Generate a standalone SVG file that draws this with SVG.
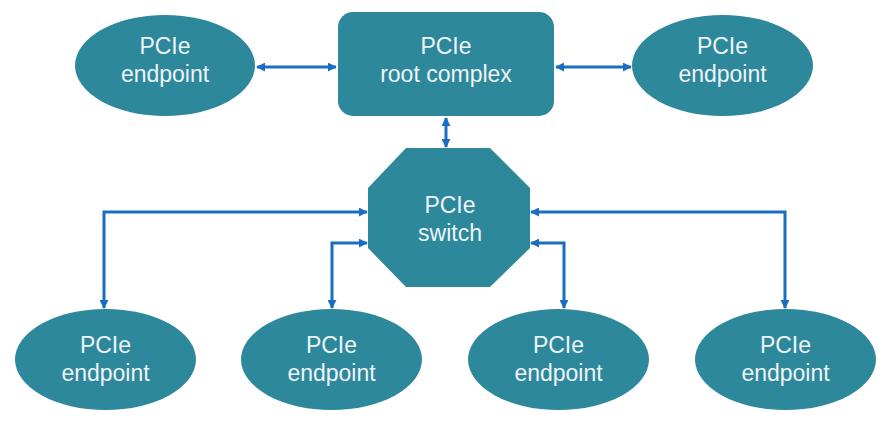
<svg xmlns="http://www.w3.org/2000/svg" width="884" height="433" viewBox="0 0 884 433">
<style>
.node{fill:#2d889c}
.lbl{font-family:"Liberation Sans",Arial,sans-serif;font-size:23px;fill:#eef4f6;text-anchor:middle}
.conn{fill:none;stroke:#1a6ec2;stroke-width:3}
</style>
<defs>
<marker id="ah" viewBox="0 0 10 10" refX="9" refY="5" markerWidth="9" markerHeight="9" markerUnits="userSpaceOnUse" orient="auto-start-reverse">
<path d="M0,0 L10,5 L0,10 z" fill="#1a6ec2"/>
</marker>
</defs>
<rect width="884" height="433" fill="#ffffff"/>
<g id="connectors">
<path class="conn" d="M257,67 H336" marker-start="url(#ah)" marker-end="url(#ah)"/>
<path class="conn" d="M556,67 H631" marker-start="url(#ah)" marker-end="url(#ah)"/>
<path class="conn" d="M446,118 V147" marker-start="url(#ah)" marker-end="url(#ah)"/>
<path class="conn" d="M367,212 H104 V308" marker-start="url(#ah)" marker-end="url(#ah)"/>
<path class="conn" d="M367,243 H332 V308" marker-start="url(#ah)" marker-end="url(#ah)"/>
<path class="conn" d="M531,243 H564 V308" marker-start="url(#ah)" marker-end="url(#ah)"/>
<path class="conn" d="M531,212 H785 V308" marker-start="url(#ah)" marker-end="url(#ah)"/>
</g>
<g id="ep-top-left">
<ellipse class="node" cx="165" cy="65.5" rx="90" ry="50.5"/>
<text class="lbl" x="165" y="54">PCIe</text>
<text class="lbl" x="165" y="82">endpoint</text>
</g>
<g id="root-complex">
<rect class="node" x="338" y="12" width="216" height="104" rx="15"/>
<text class="lbl" x="446" y="54">PCIe</text>
<text class="lbl" x="446" y="82">root complex</text>
</g>
<g id="ep-top-right">
<ellipse class="node" cx="722.5" cy="65.5" rx="90.5" ry="50.5"/>
<text class="lbl" x="722.5" y="54">PCIe</text>
<text class="lbl" x="722.5" y="82">endpoint</text>
</g>
<g id="switch">
<polygon class="node" points="406,148 490,148 530,188 530,248 490,287 406,287 368,248 368,188"/>
<text class="lbl" x="450" y="213">PCIe</text>
<text class="lbl" x="450" y="241">switch</text>
</g>
<g id="ep-bottom-1">
<ellipse class="node" cx="105.5" cy="359.5" rx="90.5" ry="50.5"/>
<text class="lbl" x="105.5" y="353">PCIe</text>
<text class="lbl" x="105.5" y="381">endpoint</text>
</g>
<g id="ep-bottom-2">
<ellipse class="node" cx="331.5" cy="359.5" rx="90.5" ry="50.5"/>
<text class="lbl" x="331.5" y="353">PCIe</text>
<text class="lbl" x="331.5" y="381">endpoint</text>
</g>
<g id="ep-bottom-3">
<ellipse class="node" cx="558.5" cy="359.5" rx="90.5" ry="50.5"/>
<text class="lbl" x="558.5" y="353">PCIe</text>
<text class="lbl" x="558.5" y="381">endpoint</text>
</g>
<g id="ep-bottom-4">
<ellipse class="node" cx="785.5" cy="359.5" rx="90.5" ry="50.5"/>
<text class="lbl" x="785.5" y="353">PCIe</text>
<text class="lbl" x="785.5" y="381">endpoint</text>
</g>
</svg>
